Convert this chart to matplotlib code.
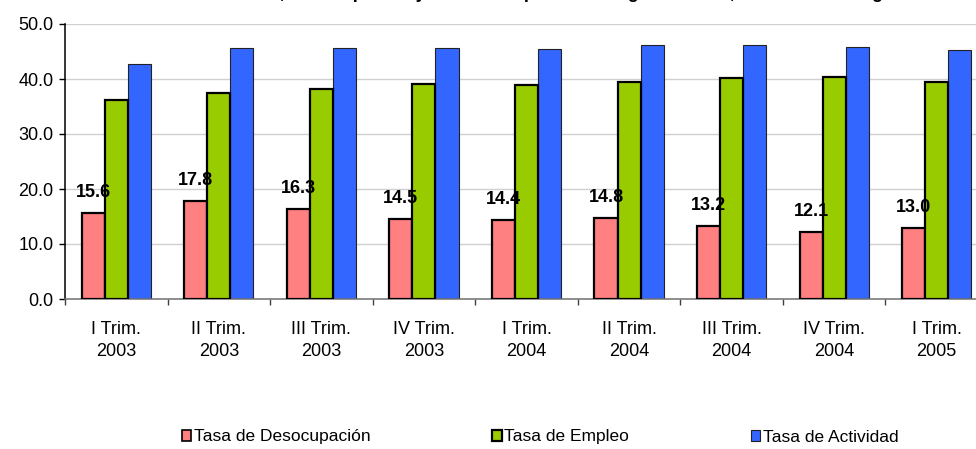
import numpy as np
import matplotlib
matplotlib.use("Agg")
import matplotlib.pyplot as plt
from matplotlib.patches import Patch

plt.rcParams['font.family'] = ['Liberation Sans', 'DejaVu Sans']

## data
trimestres = ["I Trim.\n2003", "II Trim.\n2003", "III Trim.\n2003", "IV Trim.\n2003",
              "I Trim.\n2004", "II Trim.\n2004", "III Trim.\n2004", "IV Trim.\n2004",
              "I Trim.\n2005"]
desocupacion = [15.6, 17.8, 16.3, 14.5, 14.4, 14.8, 13.2, 12.1, 13.0]
empleo = [36.2, 37.5, 38.2, 39.1, 38.9, 39.4, 40.1, 40.4, 39.4]
actividad = [42.8, 45.6, 45.7, 45.7, 45.4, 46.2, 46.2, 45.9, 45.2]
series_names = ["Tasa de Desocupación", "Tasa de Empleo", "Tasa de Actividad"]
titulo = "Tasas de actividad, desocupación y tasa de empleo. Total aglomerados, Total urbano Argentina"

W, H = 976, 449
fig = plt.figure(figsize=(W / 100, H / 100), dpi=100)
# axes runs a bit past the right border like in the cropped original
ax = fig.add_axes([65 / W, 150 / H, (988 - 65) / W, 275 / H])

x = np.arange(len(trimestres))
bw = 0.225
ax.bar(x - bw, desocupacion, bw, color="#FF8080", edgecolor="black", linewidth=1.6, zorder=3)
ax.bar(x, empleo, bw, color="#99CC00", edgecolor="black", linewidth=1.6, zorder=3)
ax.bar(x + bw, actividad, bw, color="#3366FF", edgecolor="#222222", linewidth=0.8, zorder=2)

for xi, v in zip(x, desocupacion):
    ax.annotate(f"{v:.1f}", (xi - bw, v), xytext=(0, 11.5), textcoords="offset points",
                ha="center", va="baseline", fontsize=13, fontweight="bold", zorder=5)

ax.set_xlim(-0.5, len(trimestres) - 0.5)
ax.set_ylim(0, 50)
ax.set_yticks(np.arange(0, 51, 10))
ax.set_yticklabels([f"{t:.1f}" for t in np.arange(0, 51, 10)], fontsize=13)
ax.yaxis.grid(True, color="#D0D0D0", linewidth=1, zorder=0)
ax.set_axisbelow(True)

ax.set_xticks(x)
ax.set_xticklabels(trimestres, fontsize=13, linespacing=1.35)
ax.set_xticks(np.arange(-0.5, len(trimestres)), minor=True)
ax.tick_params(axis="x", which="major", length=0, pad=16)
ax.tick_params(axis="x", which="minor", length=4.3, width=1, color="#404040")
ax.tick_params(axis="y", length=4.3, width=1, pad=4)

for s in ["top", "right"]:
    ax.spines[s].set_visible(False)
ax.spines["left"].set_color("black")
ax.spines["left"].set_linewidth(1.1)
ax.spines["bottom"].set_color("#707070")
ax.spines["bottom"].set_linewidth(1.1)

# title is mostly cut off at the top of the original image
fig.text(121 / W, 1 + 1.5 / H, titulo, ha="left", va="baseline", fontsize=13, fontweight="bold")

handles = [Patch(facecolor="#FF8080", edgecolor="black", linewidth=1.2),
           Patch(facecolor="#99CC00", edgecolor="black", linewidth=1.6),
           Patch(facecolor="#3366FF", edgecolor="#222222", linewidth=0.8)]
fig.legend(handles, series_names, loc="center", bbox_to_anchor=(540 / W, 12 / H), ncol=3,
           frameon=False, fontsize=12.5, handlelength=0.55, handleheight=0.55,
           handletextpad=0.15, columnspacing=7.0)

fig.savefig("out.png", dpi=100)
